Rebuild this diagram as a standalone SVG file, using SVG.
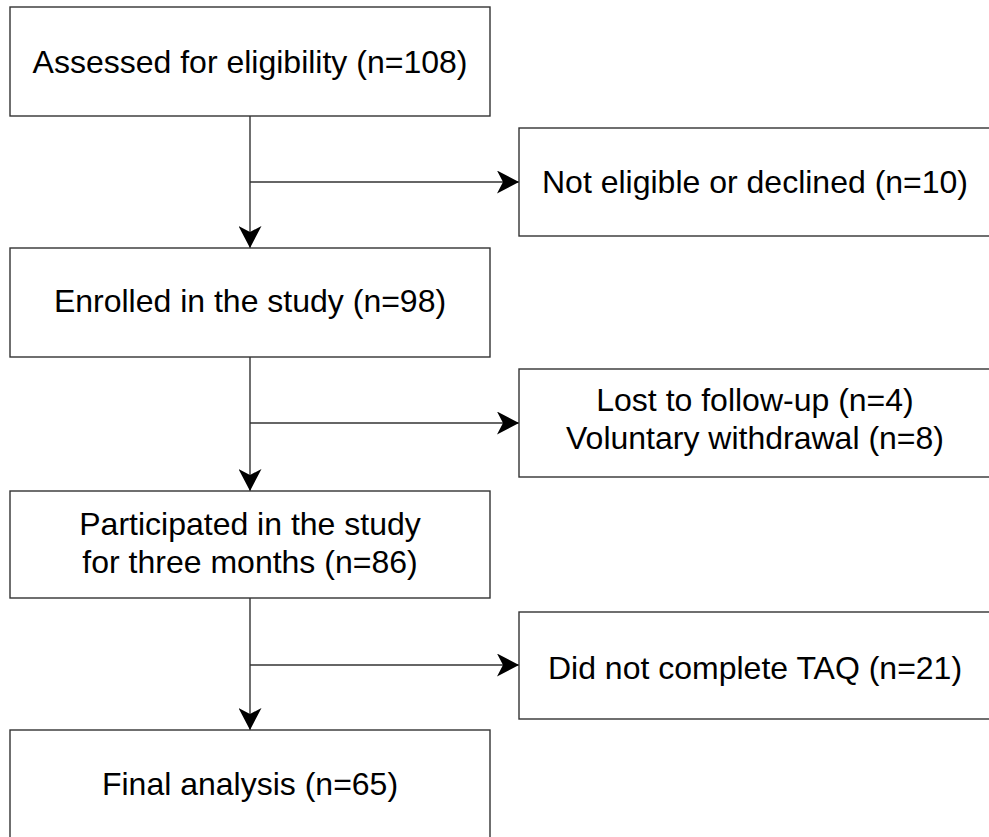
<svg xmlns="http://www.w3.org/2000/svg" width="989" height="837" viewBox="0 0 989 837">
<style>
.box{fill:#fff;stroke:#333;stroke-width:1.4}
.lbl{font-family:"Liberation Sans",Arial,sans-serif;font-size:32px;fill:#000;text-anchor:middle}
.con{fill:none;stroke:#333;stroke-width:1.4}
</style>
<defs>
<marker id="arr" markerUnits="userSpaceOnUse" viewBox="0 0 22 23" markerWidth="22" markerHeight="23" refX="22" refY="11.5" orient="auto">
<path d="M0,0 L22,11.5 L0,23 L6,11.5 Z" fill="#000"/>
</marker>
</defs>
<rect width="989" height="837" fill="#fff"/>
<g id="connectors">
<path class="con" d="M250,116 V248" marker-end="url(#arr)"/>
<path class="con" d="M250,182 H519" marker-end="url(#arr)"/>
<path class="con" d="M250,357 V491" marker-end="url(#arr)"/>
<path class="con" d="M250,423 H519" marker-end="url(#arr)"/>
<path class="con" d="M250,598 V730" marker-end="url(#arr)"/>
<path class="con" d="M250,665 H519" marker-end="url(#arr)"/>
</g>
<g id="assessed">
<rect class="box" x="10" y="7" width="480" height="109"/>
<text class="lbl" x="250" y="72.5">Assessed for eligibility (n=108)</text>
</g>
<g id="excluded">
<rect class="box" x="519" y="128" width="472" height="108"/>
<text class="lbl" x="755" y="192.5">Not eligible or declined (n=10)</text>
</g>
<g id="enrolled">
<rect class="box" x="10" y="248" width="480" height="109"/>
<text class="lbl" x="250" y="311.5">Enrolled in the study (n=98)</text>
</g>
<g id="lost">
<rect class="box" x="519" y="369" width="472" height="108"/>
<text class="lbl" x="755" y="410.5">Lost to follow-up (n=4)</text>
<text class="lbl" x="755" y="448.5">Voluntary withdrawal (n=8)</text>
</g>
<g id="participated">
<rect class="box" x="10" y="491" width="480" height="107"/>
<text class="lbl" x="250" y="534.5">Participated in the study</text>
<text class="lbl" x="250" y="572.5">for three months (n=86)</text>
</g>
<g id="notcomplete">
<rect class="box" x="519" y="612" width="472" height="107"/>
<text class="lbl" x="755" y="678.5">Did not complete TAQ (n=21)</text>
</g>
<g id="final">
<rect class="box" x="10" y="730" width="480" height="110"/>
<text class="lbl" x="250" y="794.5">Final analysis (n=65)</text>
</g>
</svg>
